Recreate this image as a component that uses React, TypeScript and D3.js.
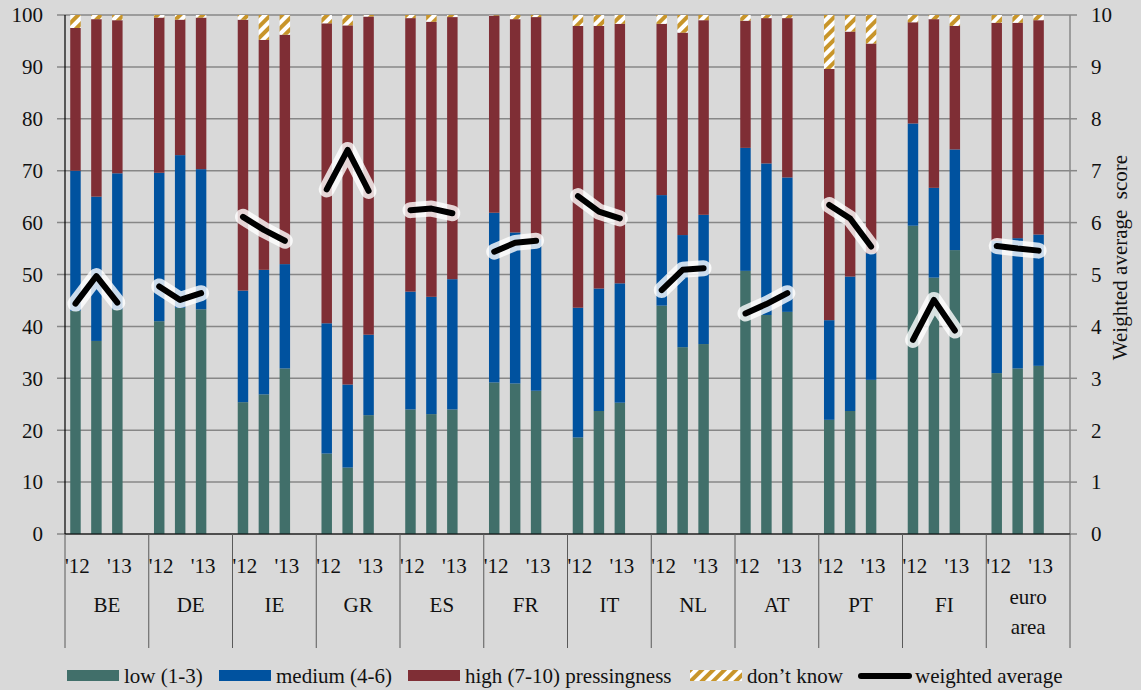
import React from "react";
import * as d3 from "d3";

const countries = ["BE", "DE", "IE", "GR", "ES", "FR", "IT", "NL", "AT", "PT", "FI", "euro area"];
const periodLabels = ["'12", "", "'13"];

// three survey rounds per country
const lowValues = [
  [43.0, 37.2, 43.3], [41.0, 43.6, 43.3], [25.4, 26.9, 31.9], [15.5, 12.8, 22.9],
  [24.0, 23.1, 24.0], [29.2, 29.0, 27.6], [18.6, 23.7, 25.3], [44.0, 36.0, 36.6],
  [50.7, 42.2, 42.8], [22.0, 23.7, 29.7], [59.4, 49.4, 54.7], [31.0, 31.9, 32.4],
];
const mediumValues = [
  [27.0, 27.8, 26.2], [28.6, 29.4, 27.0], [21.5, 24.0, 20.1], [25.1, 16.0, 15.5],
  [22.7, 22.6, 25.1], [32.7, 29.1, 29.2], [25.0, 23.6, 23.0], [21.3, 21.6, 24.9],
  [23.7, 29.2, 25.9], [19.2, 25.9, 24.4], [19.7, 17.3, 19.4], [25.5, 25.1, 25.3],
];
const highValues = [
  [27.5, 34.2, 29.5], [29.9, 26.1, 29.2], [52.2, 44.3, 44.2], [57.8, 69.2, 61.3],
  [52.7, 53.0, 50.5], [38.0, 41.1, 42.8], [54.3, 50.6, 50.0], [33.0, 39.0, 37.5],
  [24.5, 28.0, 30.7], [48.4, 47.2, 40.4], [19.5, 32.5, 23.8], [42.0, 41.5, 41.3],
];
const dontKnowValues = [
  [2.5, 0.8, 1.0], [0.5, 0.9, 0.5], [0.9, 4.8, 3.8], [1.6, 2.0, 0.3],
  [0.6, 1.3, 0.4], [0.1, 0.8, 0.4], [2.1, 2.1, 1.7], [1.7, 3.4, 1.0],
  [1.1, 0.6, 0.6], [10.4, 3.2, 5.5], [1.4, 0.8, 2.1], [1.5, 1.5, 1.0],
];
const weightedAverage = [
  [4.44, 4.97, 4.46], [4.77, 4.51, 4.64], [6.11, 5.86, 5.65], [6.64, 7.40, 6.61],
  [6.24, 6.27, 6.18], [5.44, 5.61, 5.65], [6.51, 6.21, 6.08], [4.70, 5.09, 5.12],
  [4.25, 4.43, 4.64], [6.34, 6.08, 5.54], [3.74, 4.51, 3.92], [5.55, 5.50, 5.46],
];
const leftTicks = [0, 10, 20, 30, 40, 50, 60, 70, 80, 90, 100];
const rightTicks = [0, 1, 2, 3, 4, 5, 6, 7, 8, 9, 10];
const seriesKeys = ["low", "medium", "high", "dk"];
const legendLabels = ["low (1-3)", "medium (4-6)", "high (7-10) pressingness", "don\u2019t know", "weighted average"];

const W = 1141, H = 690;
const left = 65, right = 1070, top = 15, bottom = 534;
const FONT = "Liberation Serif, DejaVu Serif, serif";
const colors: Record<string, string> = { low: "#416f6a", medium: "#00529f", high: "#7f2e35", dk: "url(#hatch)" };

export default function App() {
  const xGroup = d3.scaleBand<string>().domain(countries).range([left, right]).padding(0);
  const xInner = d3.scaleBand<number>().domain([0, 1, 2, 3]).range([0, xGroup.bandwidth()]).paddingInner(0.5).paddingOuter(0.25);
  const yL = d3.scaleLinear().domain([0, 100]).range([bottom, top]);
  const yR = d3.scaleLinear().domain([0, 10]).range([bottom, top]);

  const rows: any[] = [];
  countries.forEach((c, ci) => {
    for (let k = 0; k < 3; k++) {
      rows.push({ c, k, low: lowValues[ci][k], medium: mediumValues[ci][k], high: highValues[ci][k], dk: dontKnowValues[ci][k] });
    }
  });
  const stacked = d3.stack<any>().keys(seriesKeys)(rows);
  const bw = xInner.bandwidth();
  const cx = (c: string, k: number) => (xGroup(c) as number) + (xInner(k) as number) + bw / 2;
  const line = d3.line<[number, number]>().x(d => d[0]).y(d => d[1]);

  const legendItems = [
    { x: 67, tx: 124, key: "low" },
    { x: 219, tx: 276, key: "medium" },
    { x: 408, tx: 465, key: "high" },
    { x: 690, tx: 747, key: "dk" },
    { x: 858, tx: 915, key: "line" },
  ];

  const T = (props: any) => <text fontFamily={FONT} fontSize={21} fill="#111" {...props} />;

  return (
    <div style={{ position: "fixed", left: 0, top: 0, width: W, height: H, background: "#d9d9d9" }}>
      <svg width={W} height={H} style={{ display: "block" }} fontFamily={FONT}>
        <defs>
          <pattern id="hatch" patternUnits="userSpaceOnUse" width="8" height="8" patternTransform="rotate(45)">
            <rect width="8" height="8" fill="#ffffff" />
            <rect width="4" height="8" fill="#c8952a" />
          </pattern>
        </defs>
        <rect width={W} height={H} fill="#d9d9d9" />
        {leftTicks.map(t => (
          <line key={"g" + t} x1={57} x2={right} y1={yL(t)} y2={yL(t)} stroke="#878787" strokeWidth={1.5} />
        ))}
        {leftTicks.map(t => (
          <T key={"lt" + t} x={43} y={yL(t)} dy="0.35em" textAnchor="end">{t}</T>
        ))}
        <line x1={right} x2={right} y1={top} y2={bottom} stroke="#878787" strokeWidth={1.5} />
        {rightTicks.map(t => (
          <g key={"rt" + t}>
            <line x1={right} x2={right + 7} y1={yR(t)} y2={yR(t)} stroke="#878787" strokeWidth={1.5} />
            <T x={1091} y={yR(t)} dy="0.35em" textAnchor="start">{t}</T>
          </g>
        ))}
        <T transform={`translate(1127,${(top + bottom) / 2 - 17}) rotate(-90)`} textAnchor="middle" style={{ whiteSpace: "pre" }}>
          {"Weighted average  score"}
        </T>
        {stacked.map(s => (
          <g key={s.key} fill={colors[s.key]}>
            {s.map((d, i) => (
              <rect key={i} x={cx(d.data.c, d.data.k) - bw / 2} width={bw} y={yL(d[1])} height={Math.max(0, yL(d[0]) - yL(d[1]))} />
            ))}
          </g>
        ))}
        <line x1={left} x2={left} y1={top} y2={bottom} stroke="#000" strokeWidth={1.2} />
        <line x1={left} x2={right} y1={bottom} y2={bottom} stroke="#000" strokeWidth={1.2} />
        {countries.concat(["end"]).map((c, i) => {
          const x = i < countries.length ? (xGroup(c) as number) : right;
          return <line key={"s" + i} x1={x} x2={x} y1={bottom} y2={648} stroke="#5a5a5a" strokeWidth={1} />;
        })}
        {countries.map((c, ci) => {
          const pts: [number, number][] = weightedAverage[ci].map((v, k) => [cx(c, k), yR(v)]);
          const dstr = line(pts) as string;
          return (
            <g key={"wa" + c} fill="none" strokeLinecap="round" strokeLinejoin="round">
              <path d={dstr} stroke="#ffffff" strokeOpacity={0.8} strokeWidth={16} />
              <path d={dstr} stroke="#000" strokeWidth={6} />
            </g>
          );
        })}
        {countries.map(c => periodLabels.map((p, k) => p ? (
          <T key={c + k} x={cx(c, k) + 2} y={566} dy="0.35em" textAnchor="middle">{p}</T>
        ) : null))}
        {countries.map(c => {
          const x = (xGroup(c) as number) + xGroup.bandwidth() / 2;
          const parts = c === "euro area" ? ["euro", "area"] : [c];
          return parts.map((p, i) => (
            <T key={c + i} x={x} y={parts.length > 1 ? 597 + i * 30 : 605} dy="0.35em" textAnchor="middle">{p}</T>
          ));
        })}
        {legendItems.map((it, i) => (
          <g key={"lg" + i}>
            {it.key === "line" ? (
              <line x1={it.x + 3} x2={it.x + 51} y1={676} y2={676} stroke="#000" strokeWidth={6} strokeLinecap="round" />
            ) : (
              <rect x={it.x} y={670} width={52} height={11} fill={colors[it.key]} />
            )}
            <T x={it.tx} y={683}>{legendLabels[i]}</T>
          </g>
        ))}
      </svg>
    </div>
  );
}
